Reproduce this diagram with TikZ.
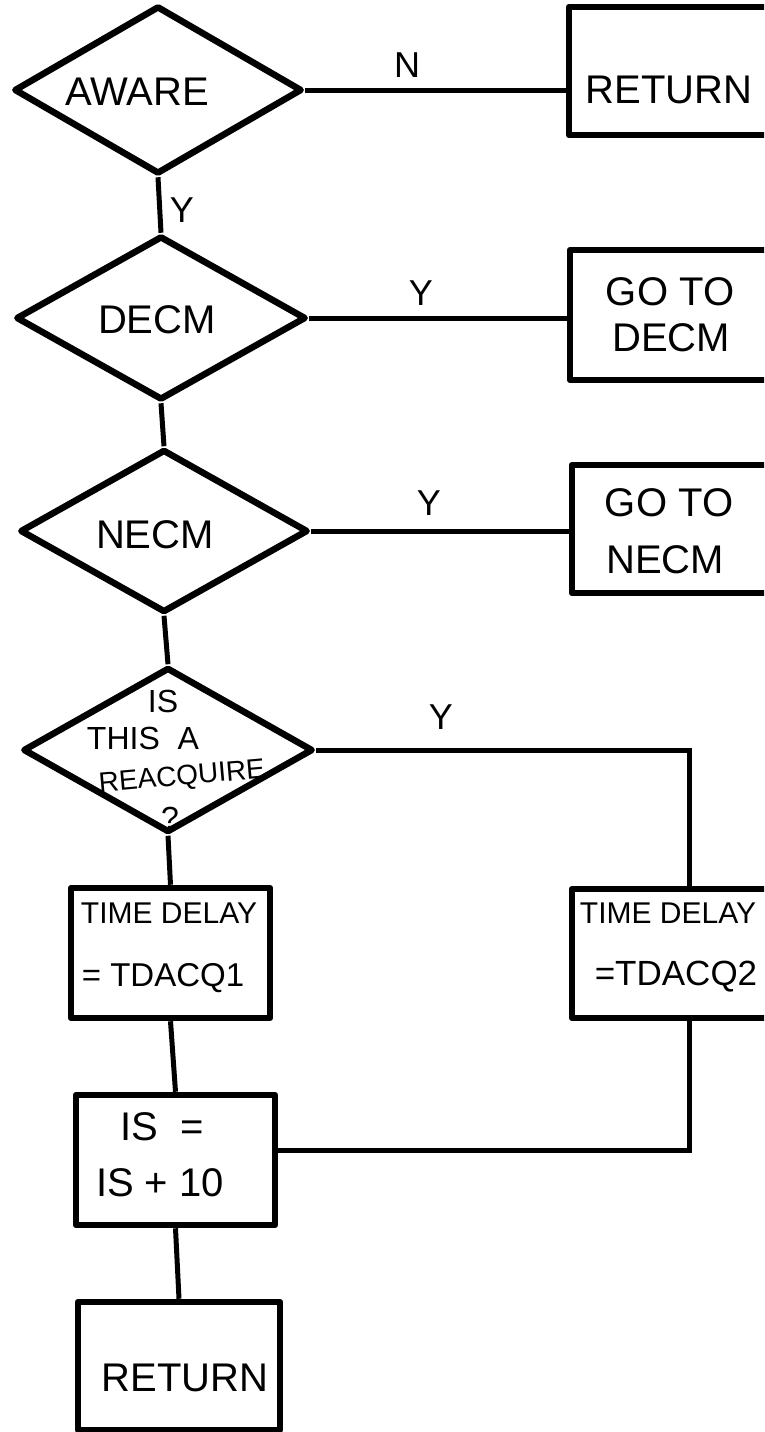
\documentclass[tikz,border=0pt]{standalone}
\usepackage{fontspec}
\setmainfont{Liberation Sans}
\usetikzlibrary{shapes.geometric,calc}
\begin{document}
\begin{tikzpicture}[x=1pt,y=-1pt,
 shapeline/.style={draw,line width=6.5pt,line join=round},
 dec/.style={shapeline,diamond,inner sep=0pt},
 boxn/.style={shapeline,rectangle,inner sep=0pt},
 conn/.style={line width=5pt},
 txt/.style={inner sep=0pt,font=\fontsize{40}{44}\selectfont},
 small/.style={inner sep=0pt,font=\fontsize{30}{34}\selectfont},
 lbl/.style={inner sep=0pt,font=\fontsize{36}{40}\selectfont}]
\useasboundingbox (0,0) rectangle (764,1432);
\fill[white] (0,0) rectangle (764,1432);
\clip (0,0) rectangle (764,1432);

% decisions
\node[dec,minimum width=288,minimum height=168] (aware) at (158,90) {};
\node[dec,minimum width=290,minimum height=164] (decm) at (161,318) {};
\node[dec,minimum width=288,minimum height=163] (necm) at (164,531) {};
\node[dec,minimum width=290,minimum height=165] (reacq) at (168,750) {};

% boxes
\node[boxn,minimum width=240,minimum height=128] (ret1) at (689,71) {};
\node[boxn,minimum width=240,minimum height=130] (go1) at (690,315) {};
\node[boxn,minimum width=240,minimum height=128] (go2) at (692,529) {};
\node[boxn,minimum width=199,minimum height=130] (tdl) at (170.5,953) {};
\node[boxn,minimum width=234,minimum height=129] (tdr) at (689,953.5) {};
\node[boxn,minimum width=199,minimum height=130] (isb) at (175.5,1160) {};
\node[boxn,minimum width=202,minimum height=128] (ret2) at (179,1366) {};

% texts
\node[txt] (tAware) at (137,92) {AWARE};
\node[txt] (tDecm) at (157,320) {DECM};
\node[txt] (tNecm) at (155,535) {NECM};
\node[lbl,font=\fontsize{32}{36}\selectfont] (tIs) at (163,701) {IS};
\node[lbl,font=\fontsize{32}{36}\selectfont] (tThis) at (143,738) {THIS\ \ A};
\node[small,font=\fontsize{28}{32}\selectfont,rotate=5] (tReacq) at (182,778) {REACQUIRE};
\node[lbl,font=\fontsize{32}{36}\selectfont] (tQ) at (170,818) {?};
\node[txt] (tRet1) at (669,90) {RETURN};
\node[txt] (tGo1a) at (670,292) {GO TO};
\node[txt] (tGo1b) at (671,338) {DECM};
\node[txt] (tGo2a) at (669,503) {GO TO};
\node[txt] (tGo2b) at (665,560) {NECM};
\node[small] (tTdl1) at (169,913) {TIME DELAY};
\node[small,font=\fontsize{33}{36}\selectfont] (tTdl2) at (163,978) {= TDACQ1};
\node[small] (tTdr1) at (668,913) {TIME DELAY};
\node[small,font=\fontsize{35}{38}\selectfont] (tTdr2) at (676,977) {=TDACQ2};
\node[txt] (tIs1) at (162,1127) {IS\ \ =};
\node[txt] (tIs2) at (160,1183) {IS + 10};
\node[txt] (tRet2) at (185,1378) {RETURN};

% labels
\node[lbl] (lN) at (407,65) {N};
\node[lbl] (lY1) at (182,210) {Y};
\node[lbl] (lY2) at (421,293) {Y};
\node[lbl] (lY3) at (429,503) {Y};
\node[lbl] (lY4) at (441,717) {Y};

% connectors
\draw[conn] (aware.east) -- (aware.east -| ret1.west);
\draw[conn] (aware.south) -- (decm.north);
\draw[conn] (decm.east) -- (decm.east -| go1.west);
\draw[conn] (decm.south) -- (necm.north);
\draw[conn] (necm.east) -- (necm.east -| go2.west);
\draw[conn] (necm.south) -- (reacq.north);
\draw[conn] (reacq.east) -| (tdr.north);
\draw[conn] (reacq.south) -- (tdl.north);
\draw[conn] (tdl.south) -- (isb.north);
\coordinate (j) at (689,1150);
\draw[conn] (tdr.south) -- (j) -- (j -| isb.east);
\draw[conn] (isb.south) -- (ret2.north);
\end{tikzpicture}
\end{document}
